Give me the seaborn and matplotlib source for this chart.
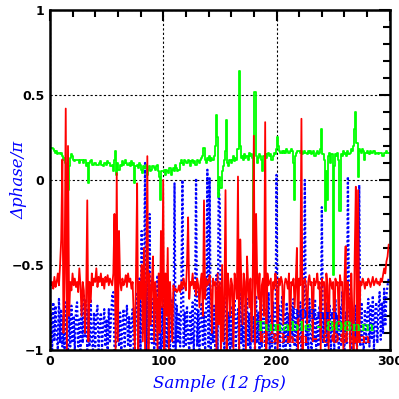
import numpy as np
import pandas as pd
import matplotlib
matplotlib.use('Agg')
import matplotlib.pyplot as plt
import seaborn as sns
from matplotlib.ticker import MultipleLocator

# phase difference traces (units of pi), one value per sample
blue_808 = [
    -0.98, -0.78, -1.00, -0.72, -0.95, -0.74, -0.90, -1.00, -0.70, -0.96,
    -0.76, -0.98, -0.80, -1.00, -0.72, -0.96, -1.00, -0.78, -0.98, -0.74,
    -0.96, -0.80, -1.00, -0.76, -0.72, -0.98, -0.82, -1.00, -0.74, -0.96,
    -0.68, -0.92, -0.70, -1.00, -0.76, -0.98, -0.70, -0.94, -1.00, -0.78,
    -0.98, -0.80, -0.74, -1.00, -0.84, -0.78, -1.00, -0.86, -0.76, -0.98,
    -0.82, -1.00, -0.76, -0.96, -0.80, -0.68, -0.66, -1.00, -1.00, -0.82,
    -0.74, -0.98, -0.78, -1.00, -0.86, -0.76, -0.98, -0.82, -0.74, -0.98,
    -0.80, -1.00, -0.84, -0.76, -1.00, -1.00, -0.74, -0.66, -0.98, -0.58,
    -1.00, -0.30, -0.90, -0.66, 0.10, -1.00, -0.58, -0.96, -0.20, -0.92,
    -0.96, -0.70, -1.00, -0.74, -0.98, -0.56, -1.00, -0.80, -1.00, -0.74,
    -0.98, -0.66, -1.00, -0.78, -0.98, -0.72, -1.00, -0.82, -0.70, -0.98,
    -0.02, -1.00, -0.74, -0.96, -0.78, -0.98, -0.66, 0.00, -0.98, -0.78,
    -0.98, -0.74, -0.94, -1.00, -0.78, -0.96, -0.72, -1.00, -0.80, 0.01,
    -0.98, -0.76, -1.00, -0.80, -0.72, -0.98, -0.78, -1.00, -0.74, 0.06,
    -0.98, 0.01, -1.00, -0.78, -0.96, -0.74, -1.00, -0.56, -1.00, -0.03,
    -0.15, -0.98, -0.78, -0.74, -1.00, -0.82, -0.66, -0.98, -0.78, -1.00,
    -0.74, -0.98, -0.80, -0.70, -1.00, -0.82, -0.76, -1.00, -0.66, -0.96,
    -0.78, -1.00, -0.74, -0.94, -0.70, -0.98, -0.78, -1.00, -0.72, -0.96,
    -0.80, -1.00, -0.68, -0.96, -0.78, -1.00, -0.74, -0.98, -0.78, -0.70,
    -1.00, -0.76, -0.96, -0.66, -1.00, -0.80, -0.98, -0.72, -0.94, -1.00,
    0.03, -0.96, -0.74, -1.00, -0.80, -0.68, -0.98, -0.78, -1.00, -0.72,
    -0.96, -0.78, -1.00, -0.74, -0.94, -0.70, -0.98, -0.80, -1.00, -0.76,
    -0.96, -0.72, -1.00, -0.80, -0.74, 0.00, -0.98, -0.78, -1.00, -0.70,
    -0.94, -1.00, -0.76, -0.96, -0.70, -1.00, -0.80, -0.98, -0.74, -0.94,
    -0.16, -0.96, -0.78, -1.00, -0.72, -0.98, -0.80, -0.74, -1.00, -0.82,
    -0.76, -1.00, -0.70, -0.96, -0.80, -1.00, -0.74, -0.98, -0.66, -0.94,
    -1.00, -0.78, -0.96, 0.02, -0.80, -0.98, -0.72, -1.00, -0.78, -0.96,
    -0.74, -1.00, -0.80, -0.03, -0.98, -0.72, -0.94, -1.00, -0.76, -0.96,
    -0.80, -0.70, -0.98, -0.74, -0.94, -0.68, -1.00, -0.78, -0.72, -0.96,
    -0.76, -0.66, -0.94, -0.72, -0.90, -0.64, -0.86, -0.68, -0.62, -0.58,
]

green_tunable = [
    0.20, 0.19, 0.19, 0.18, 0.17, 0.16, 0.17, 0.15, 0.16, 0.15,
    0.16, 0.14, 0.12, 0.13, 0.10, 0.05, -0.06, 0.08, 0.13, 0.15,
    0.14, 0.12, 0.11, 0.12, 0.12, 0.12, 0.10, 0.12, 0.12, 0.12,
    0.10, 0.12, 0.08, 0.10, -0.02, 0.10, 0.11, 0.12, 0.09, 0.10,
    0.10, 0.09, 0.09, 0.09, 0.10, 0.11, 0.09, 0.08, 0.10, 0.10,
    0.09, 0.11, 0.10, 0.10, 0.08, 0.09, 0.05, 0.12, 0.17, 0.03,
    0.10, 0.06, 0.09, 0.08, 0.11, 0.09, 0.10, 0.12, 0.10, 0.09,
    0.10, 0.08, 0.11, 0.09, 0.10, -0.02, 0.08, 0.09, 0.07, 0.10,
    0.09, 0.06, 0.04, 0.08, 0.07, 0.09, 0.03, 0.06, 0.08, 0.05,
    0.06, 0.08, 0.07, 0.06, 0.08, 0.09, 0.05, 0.02, -0.12, 0.05,
    0.05, 0.06, 0.03, 0.06, 0.05, 0.04, 0.07, 0.03, 0.06, 0.07,
    0.05, 0.09, 0.07, 0.05, 0.06, 0.10, 0.12, 0.10, 0.09, 0.12,
    0.11, 0.10, 0.12, 0.11, 0.08, 0.11, 0.12, 0.10, 0.11, 0.09,
    0.12, 0.11, 0.10, 0.12, 0.13, 0.14, 0.19, 0.12, 0.10, 0.13,
    0.12, 0.14, 0.11, 0.13, 0.12, 0.14, 0.20, 0.38, 0.25, -0.10,
    0.02, -0.05, 0.05, 0.08, 0.12, 0.17, 0.35, 0.10, 0.08, 0.12,
    0.10, 0.12, 0.14, 0.11, 0.13, 0.12, 0.18, 0.64, 0.20, 0.13,
    0.14, 0.12, 0.15, 0.13, 0.14, 0.12, 0.16, 0.14, 0.15, 0.13,
    -0.37, 0.52, 0.14, 0.10, 0.13, 0.15, 0.14, 0.12, 0.05, 0.14,
    0.15, 0.13, 0.15, 0.16, 0.14, 0.15, 0.12, 0.14, 0.16, 0.15,
    0.18, 0.25, 0.20, 0.17, 0.16, 0.17, 0.16, 0.17, 0.16, 0.18,
    0.17, 0.16, 0.17, 0.18, 0.17, 0.10, -0.12, 0.14, 0.16, 0.17,
    0.17, 0.16, 0.17, 0.15, 0.16, 0.17, 0.16, 0.15, 0.17, 0.16,
    0.17, 0.15, 0.16, 0.17, 0.14, 0.16, 0.17, 0.15, 0.16, 0.18,
    0.30, 0.15, 0.12, -0.18, 0.05, -0.12, 0.14, 0.16, 0.10, 0.15,
    -0.56, 0.08, 0.15, 0.14, 0.16, 0.12, -0.18, 0.15, 0.14, 0.17,
    0.15, 0.16, 0.14, 0.17, 0.15, 0.16, 0.18, 0.17, 0.20, 0.30,
    0.40, 0.22, 0.02, 0.18, 0.17, 0.16, 0.18, 0.17, 0.12, 0.16,
    0.17, 0.16, 0.15, 0.17, 0.16, 0.16, 0.17, 0.15, 0.16, 0.16,
    0.15, 0.16, 0.16, 0.16, 0.14, 0.16, 0.16, 0.17, 0.16, 0.16,
]

red_633 = [
    -0.58, -0.62, -0.60, -0.64, -0.57, -0.63, -0.60, -0.55, -0.62, -0.50,
    -0.35, 0.12, -0.90, -0.55, 0.42, -1.00, 0.20, -0.80, -0.60, -0.65,
    -0.55, -0.62, -0.58, -0.63, -0.60, -0.66, -0.52, -0.62, -0.80, -0.60,
    -0.65, -0.90, -0.70, -0.12, -0.95, -0.60, -0.72, -0.55, -0.62, -0.58,
    -0.60, -0.52, -0.63, -0.57, -0.60, -0.55, -0.62, -0.58, -0.64, -0.57,
    -0.60, -0.56, -0.62, -0.58, -0.60, -0.62, -0.55, -0.20, -1.00, 0.04,
    -0.95, -0.30, -0.60, -0.65, -0.58, -0.62, -0.60, -0.56, -0.63, -0.55,
    -0.60, -0.58, -0.64, -0.60, -0.80, -1.00, -0.55, -0.02, -1.00, -0.60,
    -0.70, -0.50, -0.95, -0.40, -1.00, -0.60, 0.14, -1.00, -0.55, -0.85,
    -0.60, -0.45, -0.95, -0.60, -0.70, -1.00, -0.55, -0.90, -0.30, -0.75,
    0.00, -1.00, -0.55, -0.80, -0.40, -1.00, -0.60, -0.75, -0.95, -0.62,
    -0.65, -0.64, -0.66, -0.65, -0.62, -0.66, -0.60, -0.64, -0.58, -0.62,
    -0.65, -0.50, -0.22, -0.70, -0.60, -0.62, -0.55, -0.64, -0.60, -0.68,
    -0.58, -0.62, -0.75, -0.60, -0.55, -0.80, -0.12, -0.70, -0.58, -0.62,
    -0.60, -0.56, -0.64, -0.90, -0.58, -0.62, -0.60, -1.00, -0.55, -0.85,
    -0.60, -1.00, -0.50, -0.95, -0.70, -0.06, -1.00, -0.55, -0.62, -0.80,
    -0.58, -0.62, -1.00, -0.55, -0.60, -0.70, 0.02, -1.00, -0.35, -0.62,
    -0.85, -0.55, -0.60, -1.00, -0.45, -0.62, -0.75, -0.58, -0.95, -0.60,
    0.26, -1.00, -0.20, -0.60, -0.70, -0.55, -0.95, -0.62, -0.58, -0.80,
    0.34, -1.00, -0.55, -0.62, -0.60, -0.58, -0.90, -0.60, -0.64, -0.55,
    -0.60, -1.00, -0.58, -0.62, -0.57, -0.60, -0.85, -0.62, -0.58, -0.60,
    -0.64, -0.55, -0.95, -0.60, -0.62, -0.58, -0.75, -0.60, -0.40, -1.00,
    -0.58, -0.62, 0.36, -1.00, -0.60, -0.58, -0.62, -0.85, -0.60, -0.56,
    -0.62, -0.60, -0.95, -0.58, -0.62, -0.60, -0.55, -0.64, -0.60, -1.00,
    -0.58, -0.62, -0.60, -0.90, -0.55, -0.62, -1.00, -0.58, -0.60, -0.64,
    -0.60, -0.95, -0.58, -0.62, -0.60, -0.85, -0.56, -0.62, -0.60, -1.00,
    -0.58, -0.39, -0.95, -0.60, -0.70, -1.00, -0.55, -0.80, -1.00, -0.45,
    -0.04, -1.00, -0.06, -0.95, -0.60, -0.62, -0.58, -0.60, -0.64, -0.60,
    -0.62, -0.58, -0.60, -0.63, -0.60, -0.57, -0.62, -0.60, -0.58, -0.61,
    -0.60, -0.62, -0.58, -0.60, -0.56, -0.52, -0.55, -0.48, -0.45, -0.38,
]

labels = ['808nm', 'Tunable - 808nm', '633nm - 808nm']
colors = ['#0000ff', '#00ff00', '#ff0000']

df = pd.DataFrame({
    'sample': np.arange(len(blue_808)),
    labels[0]: blue_808,
    labels[1]: green_tunable,
    labels[2]: red_633,
})

sns.set_style('white')

fig = plt.figure(figsize=(3.99, 3.99), dpi=100)
ax = fig.add_axes([0.125, 0.123, 0.852, 0.852])

sns.lineplot(data=df, x='sample', y=labels[0], ax=ax, color=colors[0],
             linewidth=1.6, linestyle=(0, (1, 1)), estimator=None)
sns.lineplot(data=df, x='sample', y=labels[1], ax=ax, color=colors[1],
             linewidth=1.3, estimator=None, drawstyle='steps-mid')
sns.lineplot(data=df, x='sample', y=labels[2], ax=ax, color=colors[2],
             linewidth=1.3, estimator=None)

ax.set_xlim(0, 300)
ax.set_ylim(-1, 1)
ax.xaxis.set_minor_locator(MultipleLocator(20))
ax.yaxis.set_minor_locator(MultipleLocator(0.1))
ax.set_yticks([-1, -0.5, 0, 0.5, 1])
ax.set_yticklabels(['\u22121', '\u22120.5', '0', '0.5', '1'])
ax.set_xticks([0, 100, 200, 300])
ax.set_xticklabels(['0', '100', '200', '300'])
ax.tick_params(which='both', direction='in', top=True, right=True, width=1.5,
               colors='black', labelsize=9, pad=4)
ax.tick_params(which='major', length=8)
ax.tick_params(which='minor', length=5)
for lab in ax.get_xticklabels() + ax.get_yticklabels():
    lab.set_fontweight('bold')

ax.grid(True, which='major', color='black', linestyle=(0, (2, 2)), linewidth=0.8)
for side in ax.spines.values():
    side.set_linewidth(1.8)
    side.set_color('black')

ax.set_xlabel('Sample (12 fps)', color='blue', fontsize=12, fontstyle='italic',
              family='DejaVu Serif')
ax.set_ylabel('\u0394phase/\u03c0', color='blue', fontsize=12, fontstyle='italic',
              family='DejaVu Serif')
ax.xaxis.set_label_coords(0.5, -0.074)
ax.yaxis.set_label_coords(-0.065, 0.5)

# key written as coloured text over the traces
for lab, col, yy in zip(labels, colors, [-0.80, -0.87, -0.94]):
    ax.text(234, yy, lab, color=col, fontsize=9, family='DejaVu Serif',
            fontweight='bold', ha='center', va='center', zorder=5)

fig.savefig('out.png', dpi=100)
